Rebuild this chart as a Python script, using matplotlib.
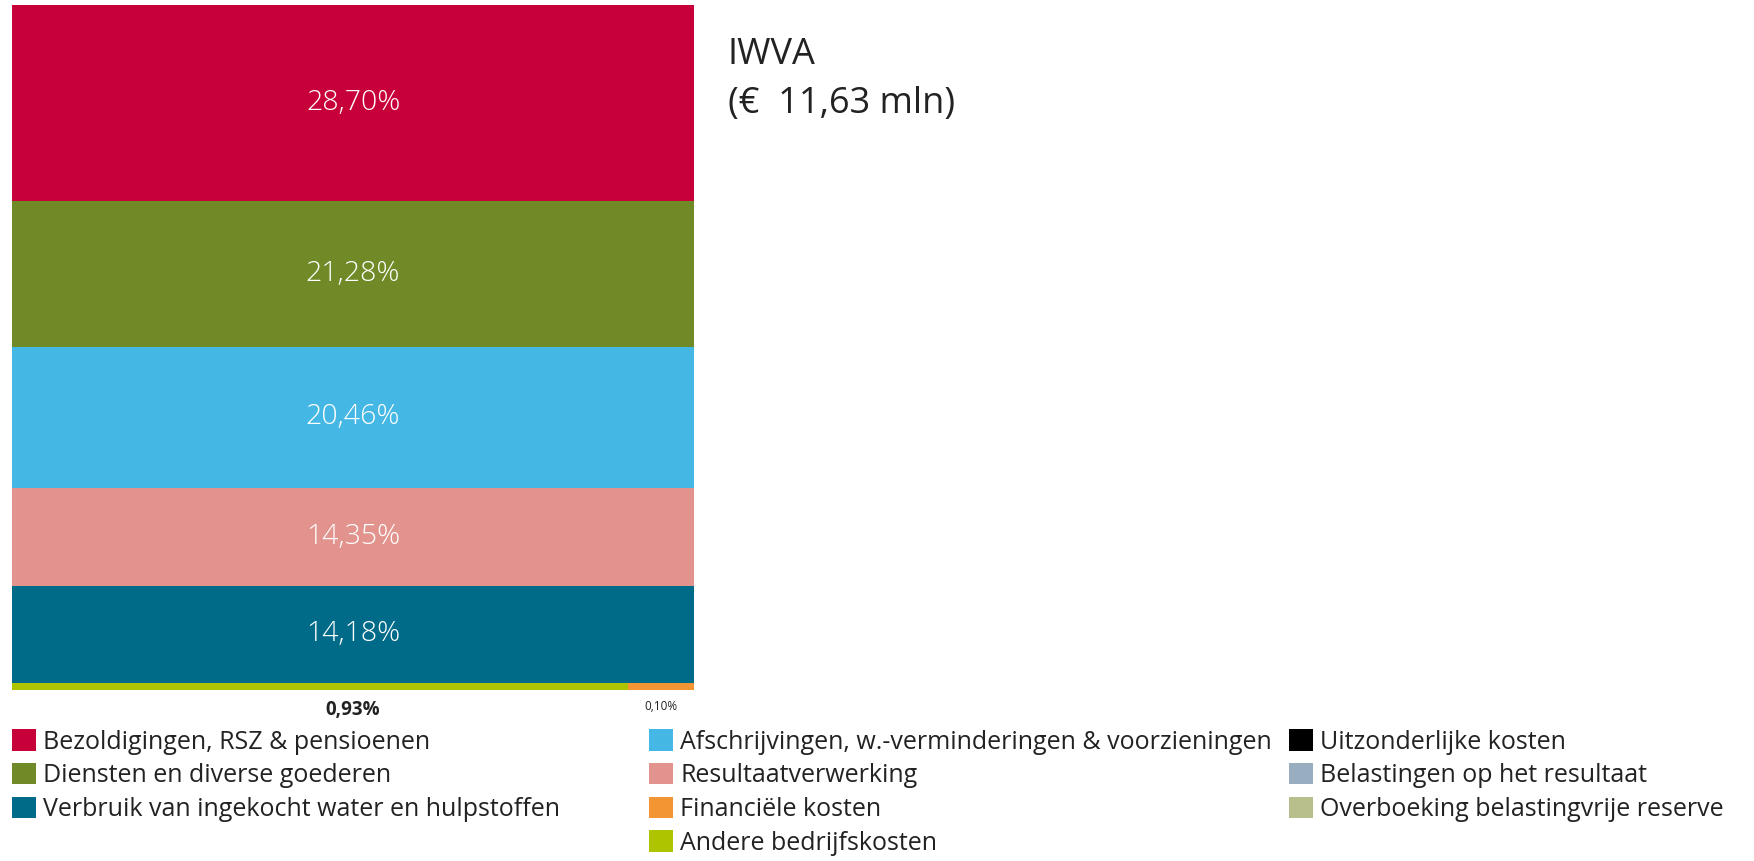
import matplotlib
matplotlib.use("Agg")
import matplotlib.pyplot as plt
from matplotlib.patches import Patch

plt.rcParams["font.family"] = ["Open Sans", "DejaVu Sans"]

# === DATA ===
title = "IWVA"
subtitle = "(€  11,63 mln)"

# rijen van boven naar onder (volle breedte)
row_labels = ["Bezoldigingen, RSZ & pensioenen", "Diensten en diverse goederen",
              "Afschrijvingen, w.-verminderingen & voorzieningen", "Resultaatverwerking",
              "Verbruik van ingekocht water en hulpstoffen"]
row_values = [28.70, 21.28, 20.46, 14.35, 14.18]
row_colors = ["#C8003A", "#6F8A26", "#44B7E4", "#E2938E", "#006B89"]

# onderste strook (naast elkaar)
strip_labels = ["Andere bedrijfskosten", "Financiële kosten"]
strip_values = [0.93, 0.10]
strip_colors = ["#AFC400", "#F39533"]

legend_cols = [
    [("Bezoldigingen, RSZ & pensioenen", "#C8003A"),
     ("Diensten en diverse goederen", "#6F8A26"),
     ("Verbruik van ingekocht water en hulpstoffen", "#006B89")],
    [("Afschrijvingen, w.-verminderingen & voorzieningen", "#44B7E4"),
     ("Resultaatverwerking", "#E2938E"),
     ("Financiële kosten", "#F39533"),
     ("Andere bedrijfskosten", "#AFC400")],
    [("Uitzonderlijke kosten", "#000000"),
     ("Belastingen op het resultaat", "#98AEC0"),
     ("Overboeking belastingvrije reserve", "#B9BE8D")],
]


def fmt(v):
    return f"{v:.2f}%".replace(".", ",")


fig = plt.figure(figsize=(17.54, 8.61), dpi=100)
ax = fig.add_axes([0.0068, 0.1985, 0.389, 0.796])

strip_total = sum(strip_values)
total = sum(row_values) + strip_total

# strook onderaan
left = 0
for v, c in zip(strip_values, strip_colors):
    w = v / strip_total
    ax.bar(left, strip_total, width=w, bottom=0, align="edge", color=c, linewidth=0)
    left += w

# volle rijen
top = total
for v, c in zip(row_values, row_colors):
    ax.bar(0, v, width=1, bottom=top - v, align="edge", color=c, linewidth=0)
    ax.text(0.5, top - v / 2, fmt(v), ha="center", va="center", color="white",
            fontsize=20.5, fontweight="light")
    top -= v

ax.set_xlim(0, 1)
ax.set_ylim(0, total)
ax.axis("off")

# labels onder de strook
w0 = strip_values[0] / strip_total
ax.text(0.5, -1.5, fmt(strip_values[0]), ha="center", va="top", fontsize=13.5,
        fontweight="bold", color="#222222")
ax.text(w0 + (1 - w0) / 2, -1.4, fmt(strip_values[1]), ha="center", va="top",
        fontsize=8.5, color="#222222")

fig.text(0.415, 0.936, title, fontsize=26, color="#222222", va="center", ha="left")
fig.text(0.415, 0.879, subtitle, fontsize=26, color="#222222", va="center", ha="left")

# legenda in drie kolommen
x_pos = [0.0068, 0.370, 0.735]
for x, items in zip(x_pos, legend_cols):
    handles = [Patch(facecolor=c, edgecolor="none") for _, c in items]
    labels = [l for l, _ in items]
    fig.legend(handles, labels, loc="upper left", bbox_to_anchor=(x, 0.153),
               frameon=False, fontsize=18, handlelength=0.95, handleheight=0.95,
               handletextpad=0.3, labelspacing=0.33, borderaxespad=0, borderpad=0,
               labelcolor="#222222")

fig.savefig("out.png", dpi=100)
